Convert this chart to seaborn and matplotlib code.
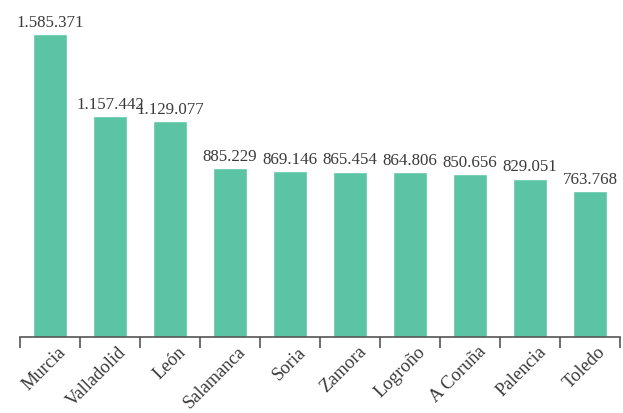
import matplotlib
matplotlib.use("Agg")
import matplotlib.pyplot as plt
import seaborn as sns
import pandas as pd
import numpy as np

cities = ["Murcia", "Valladolid", "León", "Salamanca", "Soria", "Zamora",
          "Logroño", "A Coruña", "Palencia", "Toledo"]
values = [1585371, 1157442, 1129077, 885229, 869146, 865454,
          864806, 850656, 829051, 763768]
value_labels = ["1.585.371", "1.157.442", "1.129.077", "885.229", "869.146",
                "865.454", "864.806", "850.656", "829.051", "763.768"]

sns.set_theme(style="white")
plt.rcParams["font.family"] = ["Liberation Serif", "DejaVu Serif"]

text_color = "#3a3a3a"
bar_color = "#5BC4A5"

df = pd.DataFrame({"city": cities, "value": values})

fig = plt.figure(figsize=(6.23, 4.14), dpi=100)
ax = fig.add_axes([20 / 623, (414 - 338) / 414, 600 / 623, 338 / 414])

sns.barplot(data=df, x="city", y="value", color=bar_color, saturation=1,
            width=0.58, ax=ax)

ax.set_xlim(-0.5, len(cities) - 0.5)
ax.set_ylim(0, max(values) * 338 / 303)

for container in ax.containers:
    ax.bar_label(container, labels=value_labels, padding=3, fontsize=12.2,
                 color=text_color)

for side in ["top", "right", "left"]:
    ax.spines[side].set_visible(False)
ax.spines["bottom"].set_color("#555555")
ax.spines["bottom"].set_linewidth(1.2)

ax.set_yticks([])
ax.set_xlabel("")
ax.set_ylabel("")

# tick marks sit between categories, labels sit under each bar
ax.set_xticks(np.arange(len(cities) + 1) - 0.5)
ax.set_xticklabels([])
ax.tick_params(axis="x", which="major", direction="out", length=8, width=1.2,
               color="#555555", bottom=True)
ax.set_xticks(np.arange(len(cities)) + 0.12, minor=True)
ax.set_xticklabels(cities, minor=True, rotation=45, ha="right",
                   rotation_mode="anchor", fontsize=13.3, color=text_color)
ax.tick_params(axis="x", which="minor", length=0, pad=4)

fig.savefig("out.png", dpi=100)
